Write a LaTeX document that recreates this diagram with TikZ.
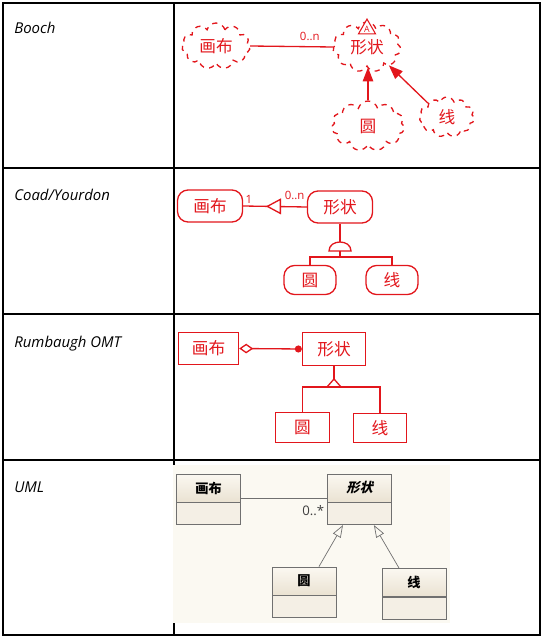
\documentclass[tikz,border=0pt]{standalone}
\usepackage{fontspec}
\setmainfont{Open Sans}
\newfontfamily\cjk{Noto Sans CJK SC}
\newfontfamily\cjkit[FakeSlant=0.25]{Noto Sans CJK SC}
\usetikzlibrary{arrows.meta,shapes.symbols,shapes.geometric,positioning}
\definecolor{pen}{RGB}{226,22,28}
\definecolor{umlline}{RGB}{112,112,112}
\definecolor{umltop}{RGB}{251,248,241}
\definecolor{umlbot}{RGB}{234,226,210}
\definecolor{umlfill}{RGB}{244,239,229}
\definecolor{umlback}{RGB}{251,249,242}
\tikzset{
  hand/.style={draw=pen, line width=0.75pt, text=pen, font=\cjk\fontsize{9.5}{10}\selectfont},
  penline/.style={draw=pen, line width=0.75pt},
  pennote/.style={text=pen, inner sep=1pt, font=\fontsize{6.5}{7}\selectfont},
  boochcloud/.style={hand, cloud, cloud puffs=11, aspect=1.4, dashed, inner sep=0pt},
  coadbox/.style={hand, rounded corners=6pt, minimum width=1.3cm, minimum height=0.64cm},
  omtbox/.style={hand, minimum width=1.2cm, minimum height=0.64cm},
  umlhead/.style={draw=umlline, top color=umltop, bottom color=umlbot, minimum width=1.28cm,
    minimum height=0.56cm, inner sep=0pt, font=\cjk\bfseries\fontsize{7.5}{8}\selectfont},
  umlbody/.style={draw=umlline, fill=umlfill, minimum width=1.28cm, minimum height=0.44cm},
  umlgen/.style={draw=umlline, -{Triangle[open,length=7pt,width=5pt]}},
  method/.style={anchor=base west, inner sep=0pt, font=\itshape\fontsize{8.5}{10}\selectfont}
}
\begin{document}
\begin{tikzpicture}[x=0.02cm, y=-0.02cm]
\useasboundingbox (0,0) rectangle (543,638);
\draw[line width=0.6pt] (3,3) rectangle (540,635);
\draw[line width=0.6pt] (174,3) -- (174,635);
\foreach \y in {168,314,460}
  \draw[line width=0.6pt] (3,\y) -- (540,\y);

\node[method] (tbooch) at (14,34) {Booch};
\node[method] (tcoad) at (14,201) {Coad/Yourdon};
\node[method] (tomt) at (14,347) {Rumbaugh OMT};
\node[method] (tuml) at (14,492) {UML};

% Booch
\node[boochcloud, minimum width=1.36cm, minimum height=0.92cm] (bcanvas) at (216,46) {画布};
\node[boochcloud, minimum width=1.36cm, minimum height=1.0cm] (bshape) at (367,47) {\raisebox{-3pt}{形状}};
\node[draw=pen, line width=0.6pt, regular polygon, regular polygon sides=3, inner sep=0.2pt,
  fill=white, text=pen, font=\fontsize{5}{5}\selectfont] (babs) at (367,29) {A};
\node[boochcloud, minimum width=1.46cm, minimum height=1.0cm] (bcircle) at (368,126) {圆};
\node[boochcloud, minimum width=1.1cm, minimum height=0.8cm] (bline) at (447,117) {线};
\draw[penline] (bcanvas.east) -- node[pennote, above=2pt, pos=0.72] {0..n} (bshape.west);
\draw[penline, -{Triangle[length=8pt,width=6pt]}] (bcircle.north) -- (bcircle.north |- bshape.south);
\draw[penline, -{Triangle[length=8pt,width=6pt]}] (bline.north west) -- (bshape.-40);

% Coad/Yourdon
\node[coadbox] (ccanvas) at (210,206) {画布};
\node[coadbox] (cshape) at (340,207) {形状};
\node[coadbox, minimum width=1.04cm, minimum height=0.58cm] (ccircle) at (310,280) {圆};
\node[coadbox, minimum width=1.04cm, minimum height=0.58cm] (cline) at (392,280) {线};
\draw[penline] (ccanvas.east) node[pennote, above right] {1}
  -- coordinate[pos=0.38] (ctip) (cshape.west) node[pennote, above left, yshift=3pt] {0..n};
\draw[penline, fill=white] (ctip) -- ++(13,-7) -- ++(0,14) -- cycle;
\coordinate (cdome) at (340,251);
\coordinate (cgen) at (340,257);
\draw[penline] (cshape.south) -- (cdome) -- (cgen);
\draw[penline, fill=white] (cdome) ++(-11,0) .. controls +(0,-12) and +(0,-12) .. ++(22,0) -- cycle;
\draw[penline] (ccircle.north) |- (cgen) -| (cline.north);

% Rumbaugh OMT
\node[omtbox] (ocanvas) at (208.5,348.5) {画布};
\node[omtbox, minimum width=1.26cm, minimum height=0.66cm] (oshape) at (334,349) {形状};
\node[omtbox, minimum width=1.08cm, minimum height=0.6cm] (ocircle) at (302.5,427.5) {圆};
\node[omtbox, minimum width=1.06cm, minimum height=0.58cm] (oline) at (380,428) {线};
\draw[penline, {Diamond[open,length=8pt,width=5.5pt]}-{Circle[length=4pt]}] (ocanvas.east) -- (oshape.west);
\coordinate (ogen) at (334,387);
\draw[penline] (oshape.south) -- (ogen);
\draw[penline, fill=white] (ogen) ++(-7,0) -- ++(7,-8) -- ++(7,8) -- cycle;
\draw[penline] (ocircle.north) |- (ogen) -| (oline.north);

% UML
\fill[umlback] (173,465) rectangle (450,623);
\node[umlhead] (ucanvas) at (208.5,488) {画布};
\node[umlbody, below=0pt of ucanvas] (ucanvasb) {};
\node[umlhead, font=\cjkit\bfseries\fontsize{7.5}{8}\selectfont] (ushape) at (359.5,488) {形状};
\node[umlbody, below=0pt of ushape] (ushapeb) {};
\node[umlhead] (ucircle) at (304,581) {圆};
\node[umlbody, below=0pt of ucircle] (ucircleb) {};
\node[umlhead] (uline) at (414,582.5) {线};
\node[umlbody, below=0pt of uline] (ulineb) {};
\draw[umlline] ([yshift=2pt]ucanvas.south east) -- ([yshift=2pt]ushape.south west)
  node[anchor=north east, inner sep=1.5pt, yshift=-2pt, text=black!75, font=\fontsize{7.5}{8}\selectfont] {0..*};
\draw[umlgen] ([xshift=8.5pt]ucircle.north) -- ([xshift=-9.4pt]ushapeb.south);
\draw[umlgen] ([xshift=-8.5pt]uline.north) -- ([xshift=8.2pt]ushapeb.south);
\end{tikzpicture}
\end{document}
